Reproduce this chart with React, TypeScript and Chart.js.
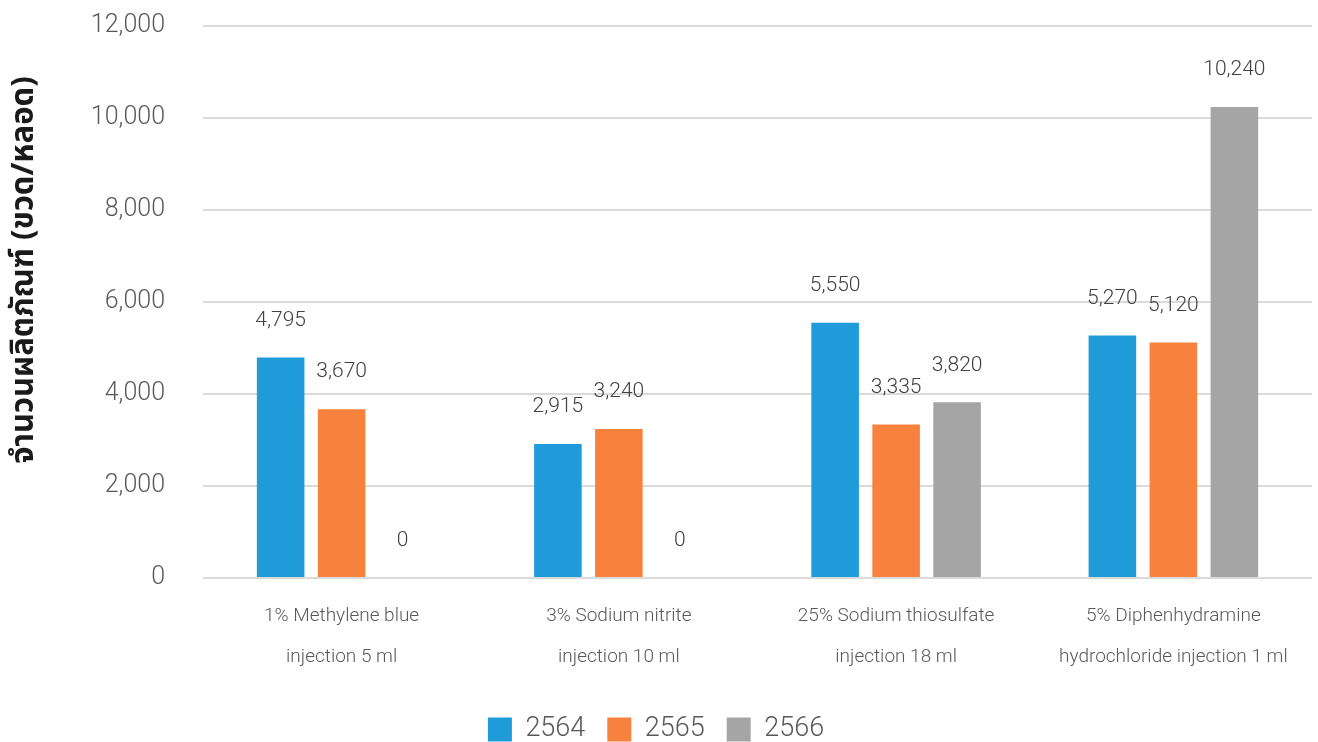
import React, { useEffect, useRef } from "react";
import { Chart, registerables } from "chart.js";

Chart.register(...registerables);

// Product categories (two-line labels on the x axis)
const categories: string[][] = [
  ["1% Methylene blue", "injection 5 ml"],
  ["3% Sodium nitrite", "injection 10 ml"],
  ["25% Sodium thiosulfate", "injection 18 ml"],
  ["5% Diphenhydramine", "hydrochloride injection 1 ml"],
];

// Yearly quantities (Thai Buddhist-era years)
const years = ["2564", "2565", "2566"];
const values2564 = [4795, 2915, 5550, 5270];
const values2565 = [3670, 3240, 3335, 5120];
const values2566 = [0, 0, 3820, 10240];

const yTicks = [0, 2000, 4000, 6000, 8000, 10000, 12000];
const yTitle = "จำนวนผลิตภัณฑ์ (ขวด/หลอด)";

const colors = ["#1f9bda", "#f7823d", "#a5a5a5"];
const textColor = "#595959";
const fontFamily = "Roboto, 'Open Sans', sans-serif";

const fmt = (v: number) => v.toLocaleString("en-US");

// Writes each bar's value above it
const valueLabels = {
  id: "valueLabels",
  afterDatasetsDraw(chart: any) {
    const { ctx } = chart;
    ctx.save();
    ctx.font = `300 21px ${fontFamily}`;
    ctx.fillStyle = "#404040";
    ctx.textAlign = "center";
    ctx.textBaseline = "middle";
    chart.data.datasets.forEach((ds: any, di: number) => {
      const meta = chart.getDatasetMeta(di);
      meta.data.forEach((bar: any, i: number) => {
        ctx.fillText(fmt(ds.data[i]), bar.x, bar.y - 37);
      });
    });
    ctx.restore();
  },
};

// Rotated y-axis title at the left edge
const axisTitle = {
  id: "axisTitle",
  afterDraw(chart: any) {
    const { ctx } = chart;
    ctx.save();
    ctx.translate(27, 270);
    ctx.rotate(-Math.PI / 2);
    ctx.font = `bold 31px 'Noto Sans Thai', Tahoma, 'Noto Sans', sans-serif`;
    ctx.fillStyle = "#1a1a1a";
    ctx.textAlign = "center";
    ctx.textBaseline = "middle";
    ctx.fillText(yTitle, 0, 0);
    ctx.restore();
  },
};

export default function App() {
  const canvasRef = useRef<HTMLCanvasElement | null>(null);

  useEffect(() => {
    document.body.style.margin = "0";
    const canvas = canvasRef.current;
    if (!canvas) return;
    const series = [values2564, values2565, values2566];
    const chart = new Chart(canvas, {
      type: "bar",
      data: {
        labels: categories,
        datasets: years.map((y, i) => ({
          label: y,
          data: series[i],
          backgroundColor: colors[i],
          borderWidth: 0,
          categoryPercentage: 0.66,
          barPercentage: 0.78,
        })),
      },
      options: {
        animation: false,
        responsive: false,
        maintainAspectRatio: false,
        layout: { padding: { top: 0, right: 6, left: 0, bottom: -11 } },
        plugins: {
          legend: {
            position: "bottom",
            labels: {
              boxWidth: 24,
              boxHeight: 24,
              padding: 22,
              color: textColor,
              font: { family: fontFamily, size: 27, weight: "300" as any },
            },
          },
          tooltip: { enabled: false },
        },
        scales: {
          x: {
            grid: { display: false },
            border: { display: false },
            ticks: {
              color: textColor,
              padding: 9,
              maxRotation: 0,
              autoSkip: false,
              font: { family: fontFamily, size: 19, lineHeight: 2.2, weight: "300" as any },
            },
            afterFit(scale: any) {
              scale.height = 116;
            },
          },
          y: {
            min: 0,
            max: 12000,
            afterBuildTicks(scale: any) {
              scale.ticks = yTicks.map((v) => ({ value: v }));
            },
            grid: { color: "#dadada", lineWidth: 2, drawTicks: false },
            border: { display: false },
            ticks: {
              color: textColor,
              padding: 38,
              callback: (v: any) => fmt(Number(v)),
              font: { family: fontFamily, size: 25, weight: "300" as any },
            },
            afterFit(scale: any) {
              scale.width = 203;
              scale.paddingTop = 26;
              scale.paddingBottom = 0;
            },
          },
        },
      },
      plugins: [valueLabels, axisTitle],
    });
    return () => chart.destroy();
  }, []);

  return (
    <div style={{ width: 1318, height: 742 }}>
      <canvas ref={canvasRef} width={1318} height={742} style={{ display: "block" }} />
    </div>
  );
}
